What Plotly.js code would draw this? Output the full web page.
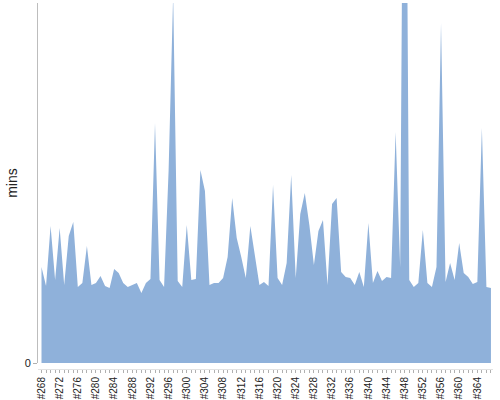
<!DOCTYPE html>
<html>
<head>
<meta charset="utf-8">
<script src="https://cdn.plot.ly/plotly-3.0.1.min.js"></script>
<style>html,body{margin:0;padding:0;background:#fff;}#chart{width:500px;height:400px;}</style>
</head>
<body>
<div id="chart"></div>
<script>
const categories = ['#268','#269','#270','#271','#272','#273','#274','#275','#276','#277',
'#278','#279','#280','#281','#282','#283','#284','#285','#286','#287',
'#288','#289','#290','#291','#292','#293','#294','#295','#296','#297',
'#298','#299','#300','#301','#302','#303','#304','#305','#306','#307',
'#308','#309','#310','#311','#312','#313','#314','#315','#316','#317',
'#318','#319','#320','#321','#322','#323','#324','#325','#326','#327',
'#328','#329','#330','#331','#332','#333','#334','#335','#336','#337',
'#338','#339','#340','#341','#342','#343','#344','#345','#346','#347',
'#348','#349','#350','#351','#352','#353','#354','#355','#356','#357',
'#358','#359','#360','#361','#362','#363','#364','#365','#366','#367'];

const mins = [24, 19.25, 34.25, 20.75, 33.75, 19.5, 31.75, 35.25, 19, 20,
29.25, 19.5, 20, 21.75, 19.25, 18.75, 23.5, 22.5, 20, 19,
19.5, 20, 17.5, 20, 21, 60, 20.75, 19, 48.25, 92,
20.5, 19, 34.5, 20.75, 21, 48.25, 43, 19.5, 20, 20,
21.25, 26.5, 41.25, 31.25, 26.5, 21.25, 34.25, 27, 19.5, 20.25,
19.25, 44.5, 21.25, 19.5, 25, 47, 21.25, 37.25, 42.5, 34.5,
24.5, 33, 35.75, 19.5, 39.75, 41.25, 22.75, 21.5, 21.25, 19.5,
22.75, 19, 35, 20, 23, 20.5, 21.5, 21.25, 57.75, 24,
200, 20.75, 19, 20, 33.25, 20, 19, 24, 85, 20.25,
25, 20.75, 30, 22.5, 21.5, 19.75, 20.25, 58.75, 19, 18.75];

const tickLabels = ['#268','#272','#276','#280','#284','#288','#292','#296','#300','#304',
'#308','#312','#316','#320','#324','#328','#332','#336','#340','#344',
'#348','#352','#356','#360','#364'];

const yTicks = [0];

const trace = {
  x: categories,
  y: mins,
  type: 'scatter',
  mode: 'lines',
  fill: 'tozeroy',
  fillcolor: 'rgb(143,177,218)',
  line: {width: 0, color: 'rgb(143,177,218)'},
  hoverinfo: 'skip'
};

const layout = {
  width: 500,
  height: 400,
  margin: {l: 38, r: 7, t: 3, b: 31},
  paper_bgcolor: '#fff',
  plot_bgcolor: '#fff',
  showlegend: false,
  font: {family: 'Liberation Sans, Arial, sans-serif', size: 11, color: '#222'},
  xaxis: {
    type: 'category',
    range: [-0.77, 99.45],
    tickvals: categories,
    ticktext: categories.map(c => tickLabels.includes(c) ? c : ''),
    tickangle: -90,
    ticks: 'outside',
    ticklen: 3,
    tickcolor: '#b0b0b0',
    tickfont: {size: 10, color: '#222'},
    showline: true,
    linecolor: '#e2e2e2',
    showgrid: false,
    zeroline: false,
    anchor: 'free',
    position: 0,
    fixedrange: true
  },
  yaxis: {
    domain: [0.0164, 1],
    range: [0, 90],
    tickvals: yTicks,
    ticktext: yTicks.map(String),
    ticks: 'outside',
    ticklen: 4,
    tickcolor: '#b0b0b0',
    tickfont: {size: 11, color: '#222'},
    showline: true,
    linecolor: '#bdbdbd',
    showgrid: false,
    zeroline: false,
    title: {text: 'mins', font: {size: 14, color: '#222'}, standoff: 3},
    fixedrange: true
  }
};

Plotly.newPlot('chart', [trace], layout, {displayModeBar: false, staticPlot: true});
</script>
</body>
</html>
